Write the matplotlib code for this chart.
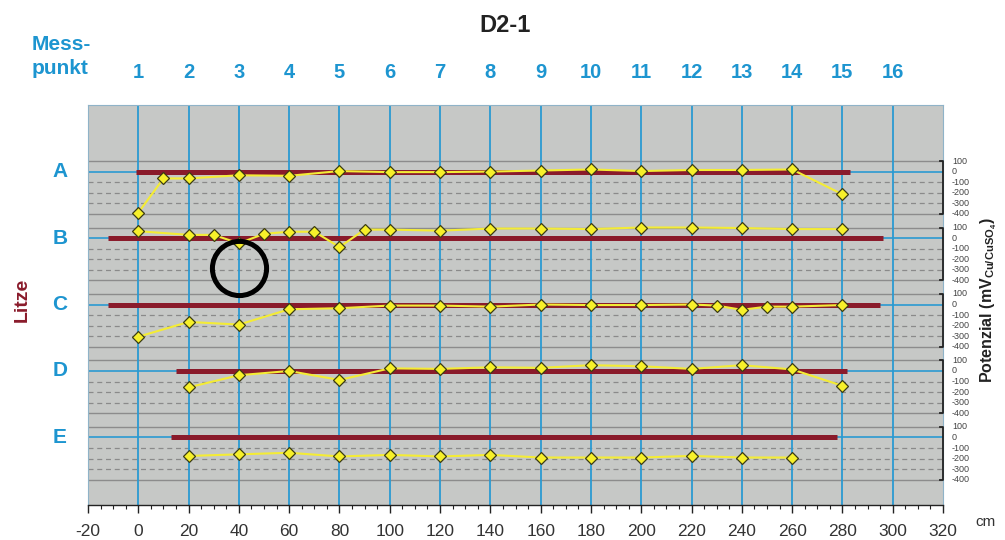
import matplotlib.pyplot as plt
from matplotlib.ticker import MultipleLocator

# Messpunkte (top labels) at their positions in cm
messpunkt = list(range(1, 17))
messpunkt_x = list(range(0, 320, 20))

# Litzen A-E: position (cm) and potential (mV vs Cu/CuSO4)
rows = ["A", "B", "C", "D", "E"]
a_x = [0, 10, 20, 40, 60, 80, 100, 120, 140, 160, 180, 200, 220, 240, 260, 280]
a_mv = [-390, -65, -65, -35, -40, 5, -5, -5, 0, 10, 20, 5, 15, 15, 20, -215]
b_x = [0, 20, 30, 40, 50, 60, 70, 80, 90, 100, 120, 140, 160, 180, 200, 220, 240, 260, 280]
b_mv = [65, 30, 30, -50, 40, 60, 60, -85, 80, 80, 70, 90, 90, 85, 100, 100, 95, 85, 85]
c_x = [0, 20, 40, 60, 80, 100, 120, 140, 160, 180, 200, 220, 230, 240, 250, 260, 280]
c_mv = [-305, -165, -190, -45, -35, -10, -10, -20, 0, -5, -5, 0, -10, -50, -20, -20, -5]
d_x = [20, 40, 60, 80, 100, 120, 140, 160, 180, 200, 220, 240, 260, 280]
d_mv = [-155, -40, 0, -85, 25, 20, 35, 30, 55, 45, 20, 55, 15, -140]
e_x = [20, 40, 60, 80, 100, 120, 140, 160, 180, 200, 220, 240, 260]
e_mv = [-175, -160, -145, -180, -165, -180, -165, -190, -190, -190, -175, -190, -190]
series_x = [a_x, b_x, c_x, d_x, e_x]
series_mv = [a_mv, b_mv, c_mv, d_mv, e_mv]

# extent of each strand (red bar), cm
strand_start = [-1, -12, -12, 15, 13]
strand_end = [283, 296, 295, 282, 278]

# right-hand scale of every row
scale_ticks = [100, 0, -100, -200, -300, -400]

# circled point (row C)
circle_row = 2
circle_x = 40
circle_mv = 345

ROW_STEP = 630  # mV between row zero lines
BLUE = "#2a9ad2"
BLUE_TXT = "#1d95d0"
RED = "#8a1b2b"
YELLOW = "#f4ec35"

plt.rcParams["font.family"] = ["Liberation Sans", "DejaVu Sans"]
plt.rcParams["axes.unicode_minus"] = False
plt.rcParams["mathtext.fontset"] = "custom"
plt.rcParams["mathtext.rm"] = "Liberation Sans:bold"
plt.rcParams["mathtext.it"] = "Liberation Sans:bold"
plt.rcParams["mathtext.bf"] = "Liberation Sans:bold"

fig = plt.figure(figsize=(10.05, 5.4), dpi=100)
ax = fig.add_axes([88 / 1005, 35 / 540, 855 / 1005, 400 / 540])
ax.set_facecolor("#c6c8c6")
ax.set_xlim(-20, 320)
ax.set_ylim(-3160, 631)

for x in messpunkt_x:
    ax.axvline(x, color=BLUE, lw=1.3, zorder=1)

for i, name in enumerate(rows):
    off = -i * ROW_STEP
    for v in (100, -400):
        ax.axhline(off + v, color="#8c8c8c", lw=1.0, zorder=0.5)
    for v in (-100, -200, -300):
        ax.axhline(off + v, color="#8a8a8a", lw=0.9, ls=(0, (4, 3)), zorder=0.5)
    ax.axhline(off, color=BLUE, lw=1.2, zorder=1.5)
    ax.plot([strand_start[i], strand_end[i]], [off, off], color=RED, lw=3.6,
            solid_capstyle="butt", zorder=2)
    ax.plot(series_x[i], [m + off for m in series_mv[i]], color=YELLOW, lw=1.5,
            marker="D", ms=6.2, mfc="#f7f02a", mec="#3c3c12", mew=0.9, zorder=3)

    # right scale: bracket + labels
    ax.plot([318.8, 320, 320, 318.8], [off + 100, off + 100, off - 400, off - 400],
            color="#222222", lw=1.3, clip_on=False, zorder=4)
    for v in scale_ticks:
        ax.text(1.0105, off + v, str(v), transform=ax.get_yaxis_transform(),
                ha="left", va="center", fontsize=6.5, color="#444444")

    # row letter
    ax.text(-0.033, off, name, transform=ax.get_yaxis_transform(), ha="center",
            va="center", fontsize=15, fontweight="bold", color=BLUE_TXT)

# Messpunkt numbers above the plot
for n, x in zip(messpunkt, messpunkt_x):
    ax.text(x, 1.0825, str(n), transform=ax.get_xaxis_transform(), ha="center",
            va="center", fontsize=14.5, fontweight="bold", color=BLUE_TXT)

# circle around the highlighted point
ax.plot(circle_x, circle_mv - circle_row * ROW_STEP, marker="o", ms=39, mfc="none",
        mec="black", mew=3.6, zorder=5, clip_on=False)

# axes styling
ax.set_yticks([])
ax.xaxis.set_major_locator(MultipleLocator(20))
ax.xaxis.set_minor_locator(MultipleLocator(5))
ax.tick_params(axis="x", which="major", length=6, width=1, color="#222222",
               labelsize=12.5, labelcolor="#333333", pad=8)
ax.tick_params(axis="x", which="minor", length=3, width=0.8, color="#222222")
for s in ("left", "top", "right"):
    ax.spines[s].set_color("#8fb3c8")
    ax.spines[s].set_linewidth(0.8)
ax.spines["bottom"].set_color("#222222")
ax.spines["bottom"].set_linewidth(1.0)

fig.text(985 / 1005, 1 - 522 / 540, "cm", ha="center", va="center", fontsize=11,
         color="#333333")
fig.text(505 / 1005, 1 - 25 / 540, "D2-1", ha="center", va="center", fontsize=17,
         fontweight="bold", color="#222222")
fig.text(32 / 1005, 1 - 50 / 540, "Mess-", ha="left", va="baseline", fontsize=15,
         fontweight="bold", color=BLUE_TXT)
fig.text(32 / 1005, 1 - 74 / 540, "punkt", ha="left", va="baseline", fontsize=15,
         fontweight="bold", color=BLUE_TXT)
fig.text(22 / 1005, 1 - 300 / 540, "Litze", rotation=90, ha="center", va="center",
         fontsize=14, fontweight="bold", color=RED)
fig.text(989 / 1005, 1 - 300 / 540, r"Potenzial (mV$_{\mathrm{Cu/CuSO}_{4}}$)",
         rotation=90, ha="center", va="center", fontsize=11.5, fontweight="bold",
         color="#222222")

fig.savefig("out.png", dpi=100)
